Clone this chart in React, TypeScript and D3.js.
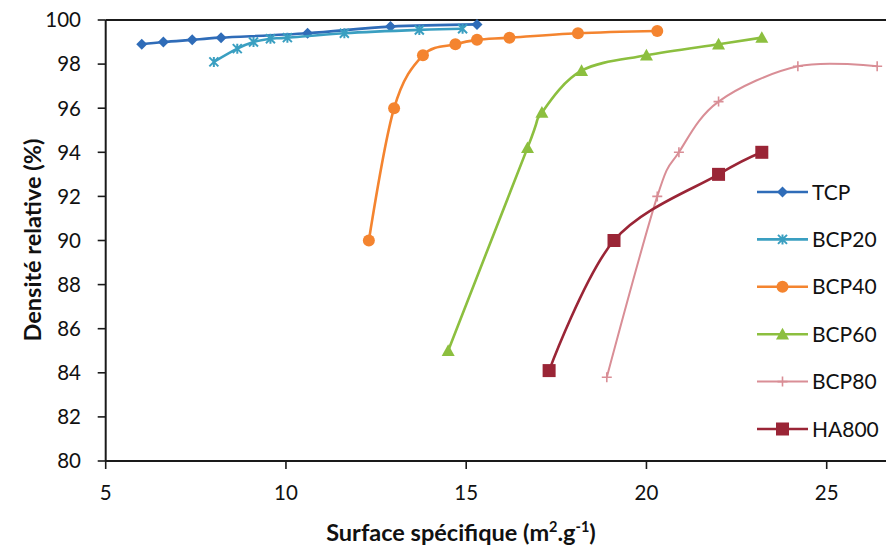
import React from "react";
import * as d3 from "d3";

const seriesNames = ["TCP", "BCP20", "BCP40", "BCP60", "BCP80", "HA800"];
const seriesColors = ["#2f6cb8", "#3a9fc1", "#f4842f", "#8cbf3f", "#d98e96", "#9a2536"];

const tcpX = [6.0, 6.6, 7.4, 8.2, 10.6, 12.9, 15.3];
const tcpY = [98.9, 99.0, 99.1, 99.2, 99.4, 99.7, 99.8];
const bcp20X = [8.0, 8.65, 9.1, 9.57, 10.04, 11.62, 13.7, 14.9];
const bcp20Y = [98.1, 98.7, 99.0, 99.15, 99.2, 99.4, 99.55, 99.6];
const bcp40X = [12.3, 13.0, 13.8, 14.7, 15.3, 16.2, 18.1, 20.3];
const bcp40Y = [90.0, 96.0, 98.4, 98.9, 99.1, 99.2, 99.4, 99.5];
const bcp60X = [14.5, 16.7, 17.1, 18.2, 20.0, 22.0, 23.2];
const bcp60Y = [85.0, 94.2, 95.8, 97.7, 98.4, 98.9, 99.2];
const bcp80X = [18.9, 20.3, 20.9, 22.0, 24.2, 26.4];
const bcp80Y = [83.8, 92.0, 94.0, 96.3, 97.9, 97.9];
const ha800X = [17.3, 19.1, 22.0, 23.2];
const ha800Y = [84.1, 90.0, 93.0, 94.0];

const xTicks = [5, 10, 15, 20, 25];
const yTicks = [80, 82, 84, 86, 88, 90, 92, 94, 96, 98, 100];

const xTitle = "Surface spécifique (m";
const yTitle = "Densité relative (%)";

const W = 886;
const H = 550;
const FONT = "Lato, 'Open Sans', sans-serif";

const seriesX = [tcpX, bcp20X, bcp40X, bcp60X, bcp80X, ha800X];
const seriesY = [tcpY, bcp20Y, bcp40Y, bcp60Y, bcp80Y, ha800Y];
const markerKinds = ["diamond", "asterisk", "circle", "triangle", "plus", "square"];

function Marker({ kind, x, y, color }: { kind: string; x: number; y: number; color: string }) {
  switch (kind) {
    case "diamond": {
      const r = 5.5;
      return <path d={`M${x},${y - r}L${x + r},${y}L${x},${y + r}L${x - r},${y}Z`} fill={color} />;
    }
    case "asterisk": {
      const r = 4.5;
      return (
        <path
          d={`M${x - r},${y - r}L${x + r},${y + r}M${x - r},${y + r}L${x + r},${y - r}M${x},${y - r - 0.5}L${x},${y + r + 0.5}`}
          stroke={color}
          strokeWidth={2}
          fill="none"
        />
      );
    }
    case "circle":
      return <circle cx={x} cy={y} r={6} fill={color} />;
    case "triangle": {
      const r = 6.5;
      return <path d={`M${x},${y - r}L${x + r},${y + r * 0.8}L${x - r},${y + r * 0.8}Z`} fill={color} />;
    }
    case "plus": {
      const r = 5;
      return (
        <path d={`M${x - r},${y}L${x + r},${y}M${x},${y - r}L${x},${y + r}`} stroke={color} strokeWidth={1.6} fill="none" />
      );
    }
    case "square": {
      const r = 6.5;
      return <rect x={x - r} y={y - r} width={2 * r} height={2 * r} fill={color} />;
    }
  }
  return null;
}

export default function App() {
  const x = d3.scaleLinear().domain([5, 30]).range([105.7, 105.7 + 25 * 36.05]);
  const y = d3.scaleLinear().domain([80, 100]).range([461, 20]);
  const line = d3
    .line<[number, number]>()
    .x((d) => x(d[0]))
    .y((d) => y(d[1]))
    .curve(d3.curveCatmullRom.alpha(0));

  const legendY0 = 192;
  const legendStep = 47.4;

  return (
    <svg
      width={W}
      height={H}
      viewBox={`0 0 ${W} ${H}`}
      style={{ position: "absolute", left: 0, top: 0, display: "block", background: "#fff" }}
      fontFamily={FONT}
    >
      <rect x={0} y={0} width={W} height={H} fill="#fff" />
      {/* top border line */}
      <line x1={x(5)} x2={W} y1={y(100)} y2={y(100)} stroke="#1a1a1a" strokeWidth={2} />
      {/* axes */}
      <line x1={x(5)} x2={x(5)} y1={y(100)} y2={y(80)} stroke="#1a1a1a" strokeWidth={2} />
      <line x1={x(5)} x2={W} y1={y(80)} y2={y(80)} stroke="#1a1a1a" strokeWidth={2} />
      {yTicks.map((t) => (
        <g key={"y" + t}>
          <line x1={x(5) - 8} x2={x(5)} y1={y(t)} y2={y(t)} stroke="#1a1a1a" strokeWidth={1.6} />
          <text x={81} y={y(t)} dy="0.36em" textAnchor="end" fontSize={20.5} fill="#111">
            {t}
          </text>
        </g>
      ))}
      {xTicks.map((t) => (
        <g key={"x" + t}>
          <line x1={x(t)} x2={x(t)} y1={y(80)} y2={y(80) + 8} stroke="#1a1a1a" strokeWidth={1.6} />
          <text x={x(t)} y={500} textAnchor="middle" fontSize={20.5} fill="#111">
            {t}
          </text>
        </g>
      ))}
      <text x={461} y={541} textAnchor="middle" fontSize={23.5} fontWeight="bold" fill="#111">
        {xTitle}
        <tspan fontSize={14.5} dy={-9}>2</tspan>
        <tspan dy={9}>.g</tspan>
        <tspan fontSize={14.5} dy={-9}>-1</tspan>
        <tspan dy={9}>)</tspan>
      </text>
      <text
        transform={`translate(41,240) rotate(-90)`}
        textAnchor="middle"
        fontSize={23.5}
        fontWeight="bold"
        fill="#111"
      >
        {yTitle}
      </text>

      {/* series */}
      {seriesNames.map((name, i) => {
        const pts: [number, number][] = seriesX[i].map((v, j) => [v, seriesY[i][j]]);
        return (
          <g key={name}>
            <path
              d={line(pts) || ""}
              fill="none"
              stroke={seriesColors[i]}
              strokeWidth={name === "BCP80" ? 2 : 2.6}
              strokeLinejoin="round"
            />
            {pts.map((p, j) => (
              <Marker key={j} kind={markerKinds[i]} x={x(p[0])} y={y(p[1])} color={seriesColors[i]} />
            ))}
          </g>
        );
      })}

      {/* legend */}
      {seriesNames.map((name, i) => {
        const ly = legendY0 + i * legendStep;
        return (
          <g key={"lg" + name}>
            <line x1={757} x2={808} y1={ly} y2={ly} stroke={seriesColors[i]} strokeWidth={name === "BCP80" ? 2 : 2.6} />
            <Marker kind={markerKinds[i]} x={782.5} y={ly} color={seriesColors[i]} />
            <text x={812} y={ly} dy="0.36em" fontSize={21} fill="#111">
              {name}
            </text>
          </g>
        );
      })}
    </svg>
  );
}
